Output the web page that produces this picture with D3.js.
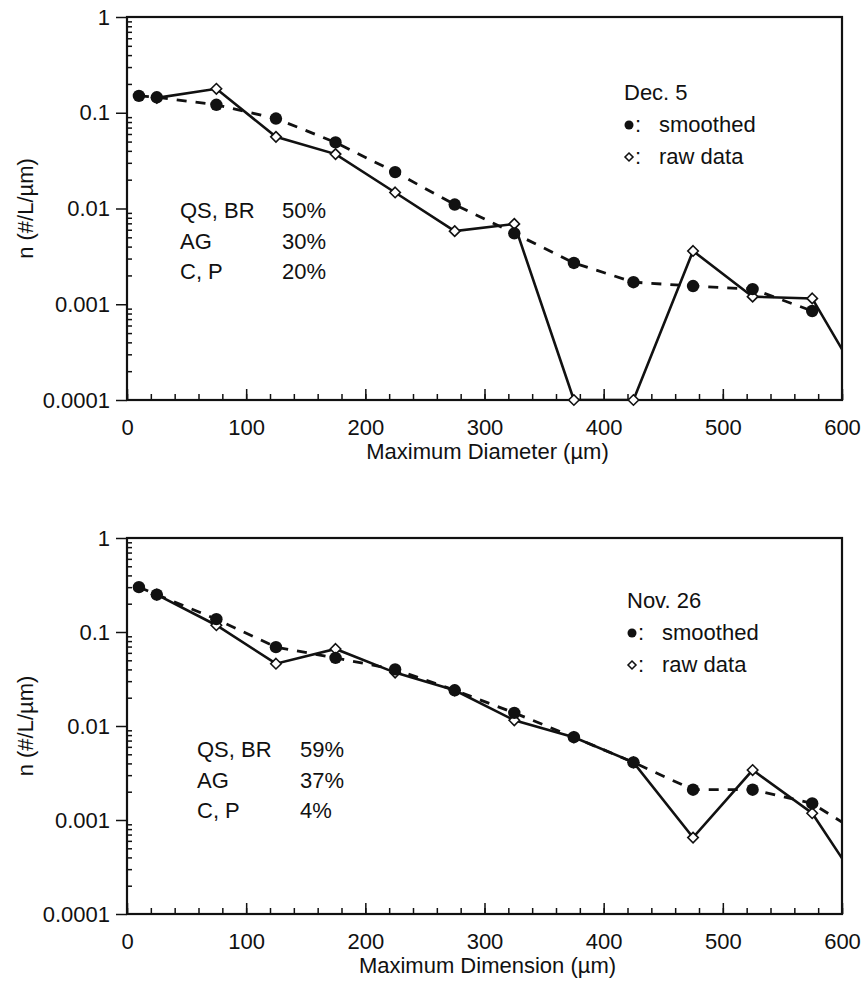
<!DOCTYPE html>
<html>
<head>
<meta charset="utf-8">
<script src="https://cdn.jsdelivr.net/npm/d3@7"></script>
<style>
  body { margin: 0; background: #fff; }
  svg text { font-family: "Liberation Sans", Arial, sans-serif; fill: #111; }
</style>
</head>
<body>
<div id="chart"></div>
<script>
// particle size bins (µm); the last bin lies past the axis and only shapes the line ends
const sizes = [10, 25, 75, 125, 175, 225, 275, 325, 375, 425, 475, 525, 575, 625];

// Dec. 5
const dec5Smoothed = [0.15, 0.145, 0.121, 0.087, 0.049, 0.024, 0.011, 0.0055, 0.0027, 0.0017, 0.00155, 0.00144, 0.00085, null];
const dec5Raw = [null, 0.143, 0.178, 0.056, 0.037, 0.0147, 0.0058, 0.0069, 0.0001, 0.0001, 0.0036, 0.0012, 0.00115, 0.0001];

// Nov. 26
const nov26Smoothed = [0.30, 0.25, 0.137, 0.069, 0.053, 0.040, 0.024, 0.0138, 0.0076, 0.0041, 0.0021, 0.0021, 0.0015, 0.0006];
const nov26Raw = [null, 0.25, 0.118, 0.046, 0.066, 0.037, 0.024, 0.0115, 0.0076, 0.0041, 0.00065, 0.0034, 0.00118, 0.00013];

// habit composition
const habitNames = ["QS, BR", "AG", "C, P"];
const dec5Share = [50, 30, 20];
const nov26Share = [59, 37, 4];

const xTicks = [0, 100, 200, 300, 400, 500, 600];
const xMinorTicks = d3.range(0, 601, 20);
const yTicks = [1, 0.1, 0.01, 0.001, 0.0001];
const yTickLabels = ["1", "0.1", "0.01", "0.001", "0.0001"];
const yMinorTicks = [];
[0.0001, 0.001, 0.01, 0.1].forEach(d => { for (let k = 2; k < 10; k++) yMinorTicks.push(d * k); });

const width = 866, height = 982;
const left = 127, right = 842;
const fontSize = 22;

const svg = d3.select("#chart").append("svg")
	.attr("width", width)
	.attr("height", height);

const panels = [
	{ id: "p1", top: 17, bottom: 400, smooth: dec5Smoothed, raw: dec5Raw, date: "Dec. 5", share: dec5Share,
	  mixX: 180, pctX: 282, mixY: 218, legendY: 100, legendX: 624, title: "Maximum Diameter (µm)" },
	{ id: "p2", top: 538, bottom: 914, smooth: nov26Smoothed, raw: nov26Raw, date: "Nov. 26", share: nov26Share,
	  mixX: 197, pctX: 300, mixY: 757, legendY: 608, legendX: 627, title: "Maximum Dimension (µm)" }
];

const diamond = d3.symbol().type(d3.symbolDiamond2).size(70);

panels.forEach(p => {
	const x = d3.scaleLinear().domain([0, 600]).range([left, right]);
	const y = d3.scaleLog().domain([0.0001, 1]).range([p.bottom, p.top]);
	const g = svg.append("g");

	g.append("clipPath").attr("id", "clip-" + p.id)
		.append("rect")
		.attr("x", left).attr("y", p.top)
		.attr("width", right - left).attr("height", p.bottom - p.top);

	// frame
	g.append("rect")
		.attr("x", left).attr("y", p.top)
		.attr("width", right - left).attr("height", p.bottom - p.top)
		.attr("fill", "none").attr("stroke", "#111").attr("stroke-width", 2.2);

	// x axis: ticks point inward
	g.append("g")
		.attr("transform", `translate(0,${p.bottom})`)
		.call(d3.axisBottom(x).tickValues(xMinorTicks).tickSize(-6).tickFormat(""))
		.call(a => a.select(".domain").remove())
		.selectAll("line").attr("stroke", "#111").attr("stroke-width", 1.5);
	g.append("g")
		.attr("transform", `translate(0,${p.bottom})`)
		.call(d3.axisBottom(x).tickValues(xTicks).tickSize(-11).tickPadding(19).tickFormat(d3.format("d")))
		.call(a => a.select(".domain").remove())
		.call(a => a.selectAll("line").attr("stroke", "#111").attr("stroke-width", 1.5))
		.selectAll("text").style("font-size", fontSize + "px").attr("fill", "#111");

	// y axis: decades outward, log minors inward
	g.append("g")
		.attr("transform", `translate(${left},0)`)
		.call(d3.axisLeft(y).tickValues(yMinorTicks).tickSize(-5).tickFormat(""))
		.call(a => a.select(".domain").remove())
		.selectAll("line").attr("stroke", "#111").attr("stroke-width", 1.5);
	g.append("g")
		.attr("transform", `translate(${left},0)`)
		.call(d3.axisLeft(y).tickValues(yTicks).tickSize(11).tickPadding(6)
			.tickFormat((d, i) => yTickLabels[i]))
		.call(a => a.select(".domain").remove())
		.call(a => a.selectAll("line").attr("stroke", "#111").attr("stroke-width", 1.5))
		.selectAll("text").style("font-size", fontSize + "px").attr("fill", "#111");

	// axis titles
	g.append("text")
		.attr("x", (left + right) / 2 + 3).attr("y", p.bottom + 59)
		.attr("text-anchor", "middle")
		.style("font-size", fontSize + "px")
		.text(p.title);
	g.append("text")
		.attr("transform", `translate(33,${(p.top + p.bottom) / 2}) rotate(-90)`)
		.attr("text-anchor", "middle")
		.style("font-size", fontSize + "px")
		.text("n (#/L/µm)");

	const pts = sizes.map((s, i) => ({ s: s, sm: p.smooth[i], raw: p.raw[i] }));

	const lineSm = d3.line().defined(d => d.sm != null).x(d => x(d.s)).y(d => y(d.sm));
	const lineRaw = d3.line().defined(d => d.raw != null).x(d => x(d.s)).y(d => y(d.raw));

	const lines = g.append("g").attr("clip-path", `url(#clip-${p.id})`);
	lines.append("path").datum(pts)
		.attr("d", lineSm)
		.attr("fill", "none").attr("stroke", "#111")
		.attr("stroke-width", 2.8).attr("stroke-dasharray", "10,9");
	lines.append("path").datum(pts)
		.attr("d", lineRaw)
		.attr("fill", "none").attr("stroke", "#111")
		.attr("stroke-width", 2.6).attr("stroke-linejoin", "miter");

	const inside = pts.filter(d => d.s <= 600);
	g.selectAll(".raw").data(inside.filter(d => d.raw != null)).enter()
		.append("path").attr("class", "raw")
		.attr("d", diamond)
		.attr("transform", d => `translate(${x(d.s)},${y(d.raw)})`)
		.attr("fill", "#fff").attr("stroke", "#111").attr("stroke-width", 1.6);
	g.selectAll(".sm").data(inside.filter(d => d.sm != null)).enter()
		.append("circle").attr("class", "sm")
		.attr("cx", d => x(d.s)).attr("cy", d => y(d.sm))
		.attr("r", 6.2).attr("fill", "#111");

	// legend
	const lg = g.append("g").style("font-size", fontSize + "px");
	lg.append("text").attr("x", p.legendX).attr("y", p.legendY).text(p.date);
	lg.append("circle").attr("cx", p.legendX + 5).attr("cy", p.legendY + 32 - 7).attr("r", 4.5).attr("fill", "#111");
	lg.append("text").attr("x", p.legendX + 11).attr("y", p.legendY + 32).text(":");
	lg.append("text").attr("x", p.legendX + 35).attr("y", p.legendY + 32).text("smoothed");
	lg.append("path").attr("d", d3.symbol().type(d3.symbolDiamond2).size(40))
		.attr("transform", `translate(${p.legendX + 5},${p.legendY + 64 - 7})`)
		.attr("fill", "#fff").attr("stroke", "#111").attr("stroke-width", 1.6);
	lg.append("text").attr("x", p.legendX + 11).attr("y", p.legendY + 64).text(":");
	lg.append("text").attr("x", p.legendX + 35).attr("y", p.legendY + 64).text("raw data");

	// composition
	const mix = g.append("g").style("font-size", fontSize + "px");
	habitNames.forEach((name, i) => {
		mix.append("text").attr("x", p.mixX).attr("y", p.mixY + i * 30.5).text(name);
		mix.append("text").attr("x", p.pctX).attr("y", p.mixY + i * 30.5).text(p.share[i] + "%");
	});
});
</script>
</body>
</html>
